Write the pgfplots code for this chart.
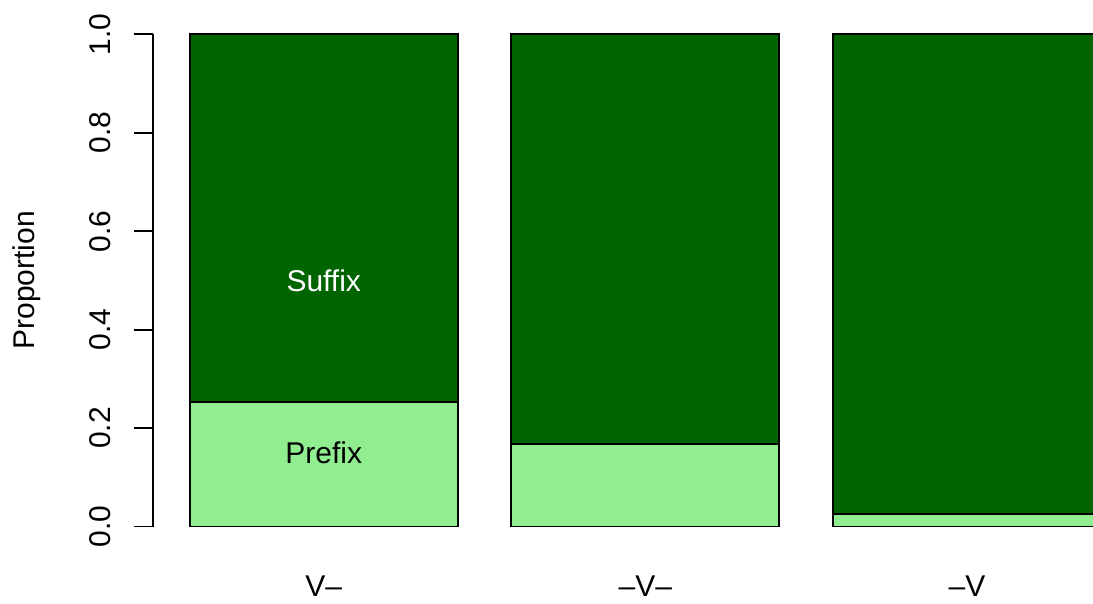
\documentclass[border=0pt]{standalone}
\usepackage{fontspec}
\setmainfont{Liberation Sans}
\usepackage{pgfplots}
\pgfplotsset{compat=1.18}
\definecolor{dkgreen}{HTML}{006400}
\definecolor{ltgreen}{HTML}{90EE90}
\begin{document}
\begin{tikzpicture}[font=\fontsize{15pt}{18pt}\selectfont]
\path[use as bounding box, clip] (-76.65pt,-28.9pt) rectangle (469.85pt,273.1pt);
\begin{axis}[
  at={(0,0)}, anchor=south west,
  scale only axis,
  width=492.05pt, height=265.8pt,
  xmin=0.064, xmax=3.736,
  ymin=-0.04, ymax=1.04,
  clip=false,
  axis lines*=left,
  x axis line style={draw=none},
  y axis line style={draw=none},
  ybar stacked, bar width=1, bar shift=0pt,
  xtick={0.7,1.9,3.1},
  xticklabels={V–,–V–,–V},
  xtick style={draw=none},
  xticklabel style={anchor=base, yshift=-15.9pt},
  ytick={0,0.2,0.4,0.6,0.8,1.0},
  tick align=outside,
  major tick length=9.5pt,
  ytick style={black, line width=0.9pt},
  yticklabel shift=12pt,
  yticklabel style={rotate=90, anchor=base,
    /pgf/number format/fixed, /pgf/number format/fixed zerofill,
    /pgf/number format/precision=1, /pgf/number format/assume math mode=true},
  ylabel={Proportion},
  ylabel style={at={(axis description cs:-0.121,0.5)}, anchor=base, rotate=0},
  font=\fontsize{15pt}{18pt}\selectfont,
]
\addplot[fill=ltgreen, draw=black, line width=0.9pt] coordinates {(0.7,0.2525) (1.9,0.1684) (3.1,0.0259)};
\addplot[fill=dkgreen, draw=black, line width=0.9pt] coordinates {(0.7,0.7475) (1.9,0.8316) (3.1,0.9741)};
\draw[black, line width=0.9pt] (axis cs:0.064,0) -- (axis cs:0.064,1);
\coordinate (suf) at (axis cs:0.7,0.5);
\coordinate (pre) at (axis cs:0.7,0.15);
\end{axis}
\node[white, anchor=center] at (suf) {Suffix};
\node[black, anchor=center] at (pre) {Prefix};
\end{tikzpicture}
\end{document}
